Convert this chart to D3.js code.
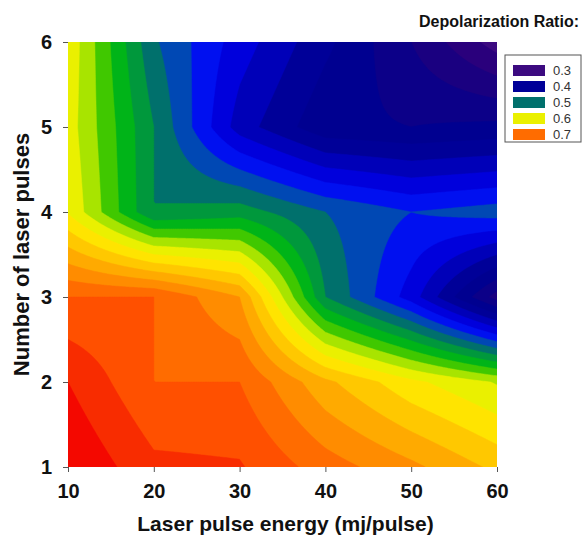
<!DOCTYPE html>
<html lang="en">
  <head>
    <meta charset="UTF-8" />
    <title>Depolarization ratio contour</title>
    <style>
      body {
        margin: 0;
        background: #fff;
      }
      svg {
        display: block;
        font-family: "Liberation Sans", Arial, sans-serif;
      }
    </style>
  </head>
  <body>
    <svg id="svg" width="584" height="537"></svg>
    <script src="https://cdn.jsdelivr.net/npm/d3@7"></script>
    <script>
      // DATA
      const energies = [10, 20, 30, 40, 50, 60]; // mj/pulse
      const pulses = [1, 2, 3, 4, 5, 6];
      // depolarization ratio, one array per pulse count
      const ratioAt1 = [0.78, 0.745, 0.742, 0.71, 0.685, 0.655];
      const ratioAt2 = [0.76, 0.72, 0.72, 0.665, 0.625, 0.598];
      const ratioAt3 = [0.72, 0.72, 0.68, 0.52, 0.45, 0.35];
      const ratioAt4 = [0.618, 0.52, 0.53, 0.5, 0.48, 0.49];
      const ratioAt5 = [0.61, 0.52, 0.43, 0.385, 0.38, 0.385];
      const ratioAt6 = [0.615, 0.503, 0.45, 0.405, 0.36, 0.31];
      const ratioRows = [ratioAt1, ratioAt2, ratioAt3, ratioAt4, ratioAt5, ratioAt6];

      const levels = d3.range(30, 80, 2).map((d) => d / 100);
      const legendValues = [0.3, 0.4, 0.5, 0.6, 0.7];
      const xTicks = [10, 20, 30, 40, 50, 60];
      const yTicks = [1, 2, 3, 4, 5, 6];

      // one colour per band, lowest band first
      const bandColors = [
        "#3c0a80", "#2a007c", "#1a0080", "#0c0088", "#000090",
        "#000098", "#0000b8", "#0000dc", "#0010f0", "#0048b4",
        "#00706c", "#00983c", "#00b418", "#40c800", "#a8e400",
        "#eaf000", "#ffe400", "#ffc800", "#ffaa00", "#ff8c00",
        "#ff6c00", "#ff5000", "#f82c00", "#f40800", "#f00000",
      ];
      const color = d3.scaleThreshold().domain(levels.slice(1)).range(bandColors);

      // LAYOUT
      const plotLeft = 68, plotRight = 497, plotTop = 42, plotBottom = 467;
      const x = d3.scaleLinear().domain([10, 60]).range([plotLeft, plotRight]);
      const y = d3.scaleLinear().domain([1, 6]).range([plotBottom, plotTop]);

      const svg = d3.select("#svg");

      // bilinear lookup in the measured grid, for the contour generator
      function lookup(ex, py) {
        const fx = (ex - energies[0]) / (energies[1] - energies[0]);
        const fy = (py - pulses[0]) / (pulses[1] - pulses[0]);
        const i = Math.min(Math.floor(fx), energies.length - 2);
        const j = Math.min(Math.floor(fy), pulses.length - 2);
        const tx = fx - i, ty = fy - j;
        const a = ratioRows[j][i], b = ratioRows[j][i + 1];
        const c = ratioRows[j + 1][i], d = ratioRows[j + 1][i + 1];
        return (a * (1 - tx) + b * tx) * (1 - ty) + (c * (1 - tx) + d * tx) * ty;
      }

      const NX = 251, NY = 251;
      const stepX = 50 / (NX - 1), stepY = 5 / (NY - 1);
      const grid = new Float64Array(NX * NY);
      for (let j = 0; j < NY; j++) {
        for (let i = 0; i < NX; i++) {
          grid[j * NX + i] = lookup(10 + i * stepX, 1 + j * stepY);
        }
      }

      const contours = d3.contours().size([NX, NY]).thresholds(levels)(grid);

      const proj = d3.geoTransform({
        point(px, py) {
          this.stream.point(x(10 + (px - 0.5) * stepX), y(1 + (py - 0.5) * stepY));
        },
      });
      const path = d3.geoPath(proj);

      svg.append("clipPath").attr("id", "plot-clip")
        .append("rect")
        .attr("x", plotLeft).attr("y", plotTop)
        .attr("width", plotRight - plotLeft).attr("height", plotBottom - plotTop);

      const plot = svg.append("g").attr("clip-path", "url(#plot-clip)");
      plot.append("rect")
        .attr("x", plotLeft).attr("y", plotTop)
        .attr("width", plotRight - plotLeft).attr("height", plotBottom - plotTop)
        .attr("fill", bandColors[0]);
      plot.selectAll("path")
        .data(contours)
        .enter()
        .append("path")
        .attr("d", path)
        .attr("fill", (d) => color(d.value))
        .attr("stroke", (d) => color(d.value))
        .attr("stroke-width", 0.5);

      // Axes
      const xAxis = svg.append("g")
        .attr("transform", `translate(0, ${plotBottom})`)
        .call(d3.axisBottom(x).tickValues(xTicks).tickFormat(d3.format("d"))
          .tickSize(5).tickPadding(12));
      const yAxis = svg.append("g")
        .attr("transform", `translate(${plotLeft}, 0)`)
        .call(d3.axisLeft(y).tickValues(yTicks).tickFormat(d3.format("d"))
          .tickSize(5).tickPadding(11));
      [xAxis, yAxis].forEach((g) => {
        g.select(".domain").remove();
        g.selectAll("line").attr("stroke", "#555");
        g.selectAll("text")
          .attr("fill", "#111")
          .style("font-size", "20px")
          .style("font-weight", "bold")
          .style("font-family", '"Liberation Sans", Arial, sans-serif');
      });

      svg.append("text")
        .attr("x", (plotLeft + plotRight) / 2 + 3)
        .attr("y", 531)
        .attr("text-anchor", "middle")
        .style("font-size", "21px")
        .style("font-weight", "bold")
        .attr("fill", "#111")
        .text("Laser pulse energy (mj/pulse)");

      svg.append("text")
        .attr("transform", `translate(29, ${(plotTop + plotBottom) / 2}) rotate(-90)`)
        .attr("text-anchor", "middle")
        .style("font-size", "22px")
        .style("font-weight", "bold")
        .attr("fill", "#111")
        .text("Number of laser pulses");

      // Legend
      svg.append("text")
        .attr("x", 579)
        .attr("y", 27)
        .attr("text-anchor", "end")
        .style("font-size", "16px")
        .style("font-weight", "bold")
        .attr("fill", "#111")
        .text("Depolarization Ratio:");

      const legend = svg.append("g").attr("transform", "translate(505, 55)");
      legend.append("rect")
        .attr("width", 76).attr("height", 87)
        .attr("fill", "#fff").attr("stroke", "#555");
      const items = legend.selectAll("g.item")
        .data(legendValues)
        .enter()
        .append("g")
        .attr("class", "item")
        .attr("transform", (d, i) => `translate(8, ${10 + i * 16})`);
      items.append("rect")
        .attr("width", 32).attr("height", 11)
        .attr("fill", (d) => color(d));
      items.append("text")
        .attr("x", 40).attr("y", 10)
        .style("font-size", "13px")
        .attr("fill", "#333")
        .text((d) => d.toFixed(1));
    </script>
  </body>
</html>
